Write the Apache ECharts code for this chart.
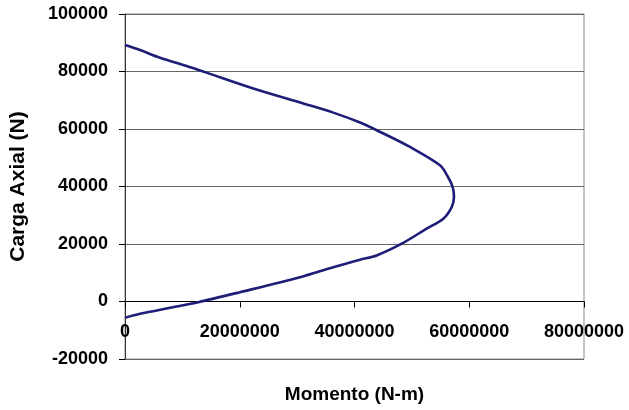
<!DOCTYPE html>
<html>
<head>
<meta charset="utf-8">
<script src="https://cdn.jsdelivr.net/npm/echarts@6/dist/echarts.min.js"></script>
<style>
html,body{margin:0;padding:0;background:#fff;}
#chart{width:629px;height:410px;}
</style>
</head>
<body>
<div id="chart"></div>
<script>
// Momento (N-m) along the interaction curve
var momento = [0, 2610000, 6100000, 10750000, 13940000, 22360000, 31080000, 36300000, 40970000, 43870000,
  49670000, 54900000, 56300000, 57110000, 57340000, 56940000, 55480000, 52580000, 48230000, 43870000,
  40960000, 36300000, 30500000, 20040000, 12780000, 7840000, 2610000, 0];
// Carga Axial (N)
var carga = [89200, 87450, 84800, 81900, 79780, 74100, 68880, 65700, 62260, 59580,
  53760, 47380, 43310, 39820, 36340, 32850, 28810, 25330, 20100, 16030,
  14530, 11950, 8470, 3240, -240, -2190, -4290, -5680];

var xTitle = 'Momento (N-m)';
var yTitle = 'Carga Axial (N)';
var yMin = -20000, yMax = 100000;

var points = momento.map(function (m, i) { return [m, carga[i]]; });

var chart = echarts.init(document.getElementById('chart'), null, {renderer: 'canvas'});
var font = 'Liberation Sans, Arial, sans-serif';
var plain = function (v) { return String(v); };
var gridTop = 14, gridBottom = 51, H = 410;
var plotH = H - gridTop - gridBottom;
// place the x axis line at y = 0 (offset from plot bottom)
var zeroOffset = -plotH * (0 - yMin) / (yMax - yMin);
chart.setOption({
  backgroundColor: '#ffffff',
  animation: false,
  grid: {left: 125, right: 45, top: gridTop, bottom: gridBottom, show: true, borderColor: '#8c8c8c', borderWidth: 1,
    containLabel: false, outerBoundsMode: 'none'},
  xAxis: {
    type: 'value', min: 0, max: 80000000, interval: 20000000, position: 'bottom', offset: zeroOffset,
    axisLine: {show: true, onZero: false, lineStyle: {color: '#000', width: 1}},
    axisTick: {show: true, length: 6, lineStyle: {color: '#000'}},
    axisLabel: {margin: 22, color: '#000', fontWeight: 'bold', fontSize: 18, fontFamily: font, formatter: plain},
    splitLine: {show: false},
    name: xTitle, nameLocation: 'middle', nameGap: 84,
    nameTextStyle: {color: '#000', fontWeight: 'bold', fontSize: 19, fontFamily: font}
  },
  yAxis: {
    type: 'value', min: yMin, max: yMax, interval: 20000,
    axisLine: {show: true, onZero: false, lineStyle: {color: '#333', width: 1}},
    axisTick: {show: true, length: 6, lineStyle: {color: '#000'}},
    axisLabel: {margin: 17, color: '#000', fontWeight: 'bold', fontSize: 18, fontFamily: font, formatter: plain},
    splitLine: {show: true, lineStyle: {color: '#666', width: 1}},
    name: yTitle, nameLocation: 'middle', nameGap: 96, nameRotate: 90,
    nameTextStyle: {color: '#000', fontWeight: 'bold', fontSize: 21, fontFamily: font}
  },
  series: [{
    type: 'line', data: points, showSymbol: false, smooth: 0.3,
    lineStyle: {color: '#1e1e78', width: 2.6}
  }]
});
</script>
</body>
</html>
